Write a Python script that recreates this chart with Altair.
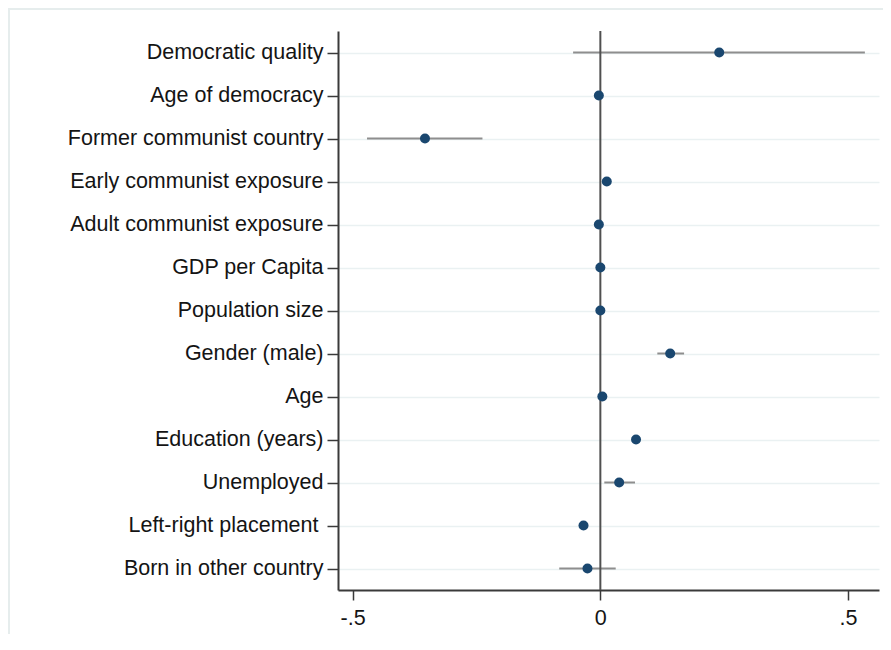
import altair as alt
import pandas as pd

variables = [
    "Democratic quality",
    "Age of democracy",
    "Former communist country",
    "Early communist exposure",
    "Adult communist exposure",
    "GDP per Capita",
    "Population size",
    "Gender (male)",
    "Age",
    "Education (years)",
    "Unemployed",
    "Left-right placement",
    "Born in other country",
]
coef = [0.240, -0.003, -0.354, 0.013, -0.003, 0.000, 0.000, 0.141, 0.004, 0.072, 0.038, -0.034, -0.026]
ci_low = [-0.055, -0.006, -0.471, 0.008, -0.006, -0.002, -0.002, 0.115, 0.001, 0.064, 0.008, -0.041, -0.083]
ci_high = [0.534, 0.000, -0.238, 0.018, 0.000, 0.002, 0.002, 0.169, 0.007, 0.080, 0.070, -0.027, 0.031]
x_ticks = [-0.5, 0.0, 0.5]

df = pd.DataFrame({"var": variables, "coef": coef, "lo": ci_low, "hi": ci_high})

FONT = "Liberation Sans"
x_scale = alt.Scale(domain=[-0.5296, 0.5625], nice=False, zero=False)
y_enc = alt.Y(
    "var:N",
    sort=variables,
    scale=alt.Scale(type="point", padding=0.5),
    axis=alt.Axis(
        title=None,
        grid=True,
        gridColor="#eaf1f2",
        gridWidth=1.5,
        ticks=True,
        tickSize=11,
        tickWidth=1.5,
        tickColor="#3a3a3a",
        domainColor="#3a3a3a",
        domainWidth=2,
        labelFont=FONT,
        labelFontSize=21.5,
        labelColor="#141414",
        labelPadding=alt.condition("datum.value == 'Left-right placement'", alt.value(9), alt.value(4)),
        labelLimit=0,
    ),
)

base = alt.Chart(df)

frame = base.mark_rect(filled=False, stroke="#e6eded", strokeWidth=2, clip=False).encode(
    x=alt.value(-329), x2=alt.value(620), y=alt.value(-22), y2=alt.value(700)
)

ci = base.mark_rule(color="#8e8e8e", strokeWidth=2).encode(
    x=alt.X(
        "lo:Q",
        scale=x_scale,
        axis=alt.Axis(
            values=x_ticks,
            title=None,
            grid=False,
            tickSize=10,
            tickWidth=1.5,
            tickColor="#3a3a3a",
            domainColor="#3a3a3a",
            domainWidth=2,
            labelFont=FONT,
            labelFontSize=21.5,
            labelColor="#141414",
            labelPadding=7,
            labelFlush=False,
            labelExpr="(datum.value < 0 ? '-' : '') + replace(format(abs(datum.value), '.1~f'), '0.', '.')",
        ),
    ),
    x2="hi:Q",
    y=y_enc,
)

zero_line = alt.Chart(pd.DataFrame({"z": [0.0]})).mark_rule(color="#505050", strokeWidth=2).encode(
    x=alt.X("z:Q", scale=x_scale)
)

points = base.mark_circle(size=100, color="#1a476f", opacity=1).encode(
    x=alt.X("coef:Q", scale=x_scale),
    y=alt.Y("var:N", sort=variables),
)

chart = (
    alt.layer(frame, ci, zero_line, points)
    .properties(
        width=541,
        height=559,
        autosize=alt.AutoSizeParams(type="none"),
        padding={"left": 330, "top": 23, "right": 4, "bottom": 44},
        background="white",
    )
    .configure_view(stroke=None)
)

chart.save("out.html", embed_options={"renderer": "svg", "actions": False})
